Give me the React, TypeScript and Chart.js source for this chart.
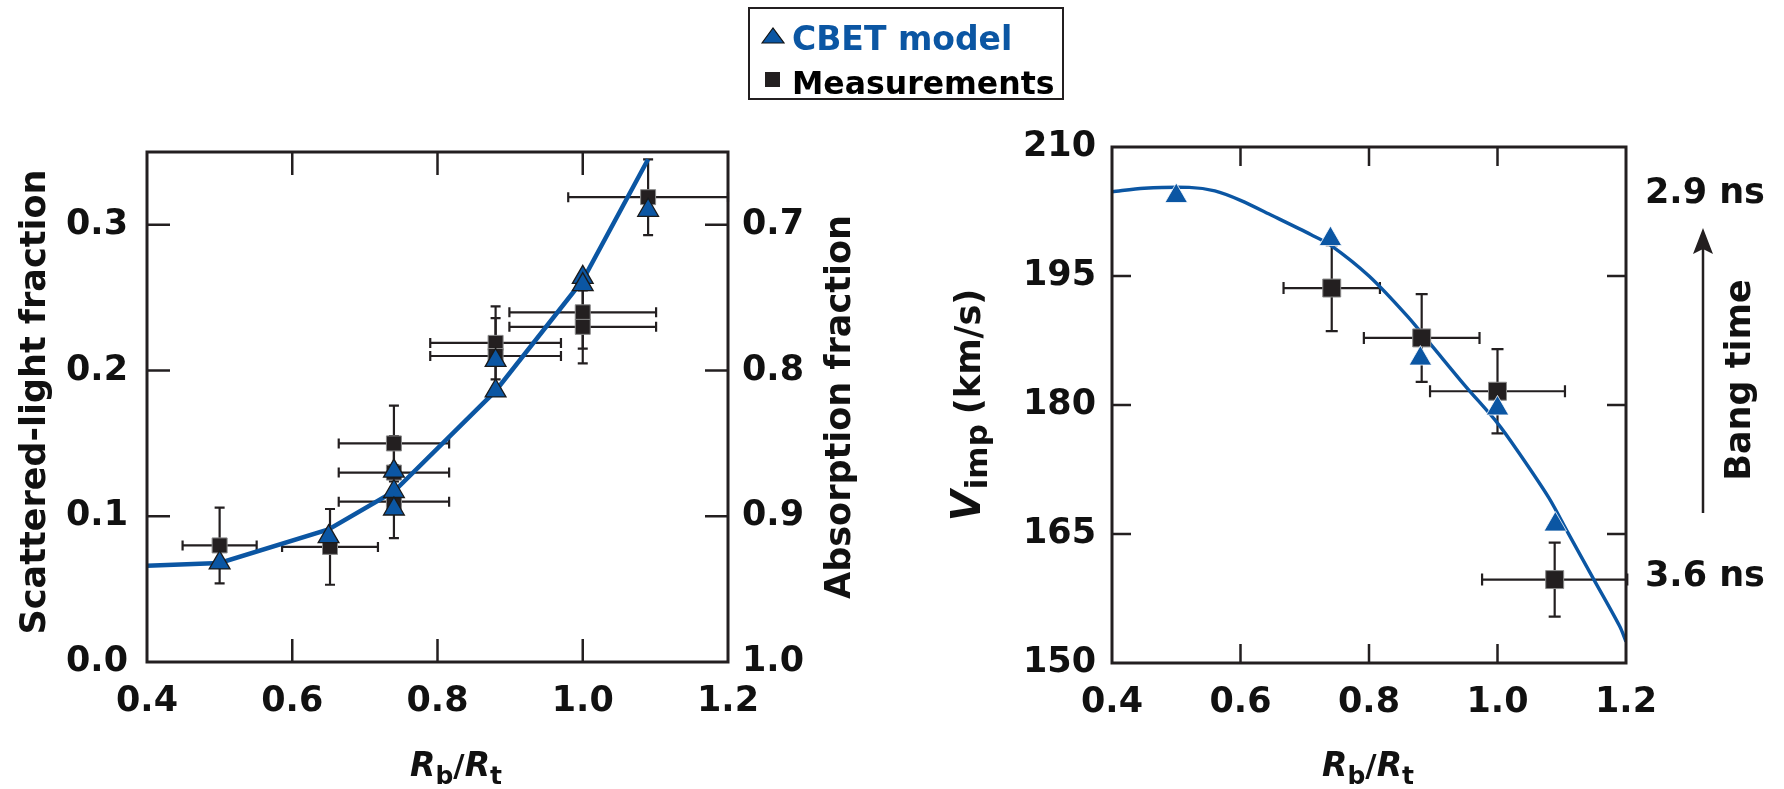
import React, { useEffect, useRef } from 'react';
import { Chart, registerables } from 'chart.js';

Chart.register(...registerables);

const FONT = '"DejaVu Sans", sans-serif';
const BLUE = '#0b56a3';
const INK = '#231f20';
const TEXT = '#111111';

// ---------- shared x axis ----------
const xTicks = [0.4, 0.6, 0.8, 1.0, 1.2];

// ---------- left panel: scattered-light fraction ----------
const scatterTicks = [0.0, 0.1, 0.2, 0.3];
const absorptionLabels = ['1.0', '0.9', '0.8', '0.7'];

const leftCurveX = [0.4, 0.5, 0.65, 0.74, 0.88, 1.0, 1.09];
const leftCurveY = [0.066, 0.068, 0.091, 0.117, 0.186, 0.262, 0.345];

const leftModelX = [0.5, 0.65, 0.74, 0.74, 0.74, 0.88, 0.88, 1.0, 1.0, 1.09];
const leftModelY = [0.068, 0.086, 0.131, 0.117, 0.105, 0.207, 0.186, 0.264, 0.259, 0.31];

const leftMeasX = [0.5, 0.652, 0.74, 0.74, 0.74, 0.88, 0.88, 1.0, 1.0, 1.09];
const leftMeasY = [0.08, 0.079, 0.15, 0.13, 0.11, 0.219, 0.21, 0.24, 0.23, 0.319];
const leftMeasXErr = [0.051, 0.066, 0.076, 0.076, 0.076, 0.09, 0.09, 0.101, 0.101, 0.11];
const leftMeasYErr = [0.026, 0.026, 0.026, 0.025, 0.025, 0.025, 0.026, 0.025, 0.025, 0.026];

// ---------- right panel: implosion velocity ----------
const velTicks = [150, 165, 180, 195, 210];
const bangTimeValues = [204.6, 160];
const bangTimeLabels = ['2.9 ns', '3.6 ns'];

const rightCurveX = [0.4, 0.45, 0.52, 0.56, 0.6, 0.65, 0.71, 0.74, 0.8, 0.86, 0.9, 0.95, 1.0, 1.03, 1.08, 1.11, 1.15, 1.19, 1.2];
const rightCurveY = [204.8, 205.2, 205.3, 204.9, 203.8, 202.0, 199.8, 198.6, 195.0, 190.3, 186.7, 182.2, 177.9, 174.8, 169.2, 165.1, 159.7, 154.3, 152.5];

const rightModelX = [0.5, 0.74, 0.88, 1.0, 1.09];
const rightModelY = [204.3, 199.3, 185.4, 179.6, 166.1];

const rightMeasX = [0.742, 0.882, 1.0, 1.089];
const rightMeasY = [193.6, 187.8, 181.6, 159.7];
const rightMeasXErr = [0.075, 0.09, 0.105, 0.113];
const rightMeasYErr = [5.0, 5.1, 4.9, 4.3];

type Seg = { t: string; font: string; dy?: number; gap?: number };
type TextItem = { segs: Seg[]; x: number; y: number; rot: boolean };

function drawRich(ctx: CanvasRenderingContext2D, item: TextItem) {
  ctx.save();
  ctx.translate(item.x, item.y);
  if (item.rot) ctx.rotate(-Math.PI / 2);
  ctx.textBaseline = 'alphabetic';
  ctx.textAlign = 'left';
  ctx.fillStyle = TEXT;
  const widths = item.segs.map((s) => {
    ctx.font = s.font;
    return ctx.measureText(s.t).width + (s.gap || 0);
  });
  const total = widths.reduce((a, b) => a + b, 0);
  let x = -total / 2;
  item.segs.forEach((s, i) => {
    ctx.font = s.font;
    ctx.fillText(s.t, x + (s.gap || 0), s.dy || 0);
    x += widths[i];
  });
  ctx.restore();
}

function makePlugin(cfg: {
  ex: number[]; ey: number[]; exErr: number[]; eyErr: number[];
  cap: number; tickLen: number; texts: TextItem[]; arrow?: { x: number; y0: number; y1: number };
}) {
  return {
    id: 'panelExtras',
    beforeDatasetsDraw(chart: any) {
      const { ctx } = chart;
      const xs = chart.scales.x;
      const ys = chart.scales.y;
      ctx.save();
      ctx.strokeStyle = INK;
      ctx.lineWidth = 2.2;
      ctx.lineCap = 'butt';
      for (let i = 0; i < cfg.ex.length; i++) {
        const px = xs.getPixelForValue(cfg.ex[i]);
        const py = ys.getPixelForValue(cfg.ey[i]);
        const x0 = xs.getPixelForValue(cfg.ex[i] - cfg.exErr[i]);
        const x1 = xs.getPixelForValue(cfg.ex[i] + cfg.exErr[i]);
        const y0 = ys.getPixelForValue(cfg.ey[i] - cfg.eyErr[i]);
        const y1 = ys.getPixelForValue(cfg.ey[i] + cfg.eyErr[i]);
        const c = cfg.cap / 2;
        ctx.beginPath();
        ctx.moveTo(x0, py); ctx.lineTo(x1, py);
        ctx.moveTo(x0, py - c); ctx.lineTo(x0, py + c);
        ctx.moveTo(x1, py - c); ctx.lineTo(x1, py + c);
        ctx.moveTo(px, y0); ctx.lineTo(px, y1);
        ctx.moveTo(px - c, y0); ctx.lineTo(px + c, y0);
        ctx.moveTo(px - c, y1); ctx.lineTo(px + c, y1);
        ctx.stroke();
      }
      ctx.restore();
    },
    afterDraw(chart: any) {
      const { ctx, chartArea: a } = chart;
      const xs = chart.scales.x;
      const ys = chart.scales.y;
      ctx.save();
      ctx.strokeStyle = INK;
      ctx.lineWidth = 2.5;
      const L = cfg.tickLen;
      ctx.beginPath();
      xs.ticks.forEach((t: any) => {
        if (t.value <= xs.min || t.value >= xs.max) return;
        const px = xs.getPixelForValue(t.value);
        ctx.moveTo(px, a.bottom); ctx.lineTo(px, a.bottom - L);
        ctx.moveTo(px, a.top); ctx.lineTo(px, a.top + L);
      });
      ys.ticks.forEach((t: any) => {
        if (t.value <= ys.min || t.value >= ys.max) return;
        const py = ys.getPixelForValue(t.value);
        ctx.moveTo(a.left, py); ctx.lineTo(a.left + L, py);
        ctx.moveTo(a.right, py); ctx.lineTo(a.right - L, py);
      });
      ctx.stroke();
      ctx.lineWidth = 3;
      ctx.strokeRect(a.left, a.top, a.right - a.left, a.bottom - a.top);
      if (cfg.arrow) {
        const { x, y0, y1 } = cfg.arrow;
        ctx.lineWidth = 2.5;
        ctx.beginPath();
        ctx.moveTo(x, y0); ctx.lineTo(x, y1 + 20);
        ctx.stroke();
        ctx.fillStyle = INK;
        ctx.beginPath();
        ctx.moveTo(x, y1);
        ctx.lineTo(x - 10, y1 + 26);
        ctx.lineTo(x, y1 + 21);
        ctx.lineTo(x + 10, y1 + 26);
        ctx.closePath();
        ctx.fill();
      }
      ctx.restore();
      cfg.texts.forEach((t) => drawRich(ctx, t));
    },
  };
}

const tickFont = { family: FONT, size: 35, weight: 'bold' as const };

function pts(xs: number[], ys: number[]) {
  return xs.map((x, i) => ({ x, y: ys[i] }));
}

function baseOptions(o: {
  top: number; leftW: number; rightW: number; bottomH: number;
  yMin: number; yMax: number; yTicks: number[]; yLabel: (v: number, i: number) => string;
  y2Ticks: number[]; y2Label: (v: number, i: number) => string; yPad: number; y2Pad: number;
}) {
  return {
    responsive: false,
    animation: false,
    devicePixelRatio: 1,
    events: [],
    layout: { padding: { top: o.top, left: 0, right: 0, bottom: 0 } },
    plugins: { legend: { display: false }, tooltip: { enabled: false } },
    scales: {
      x: {
        type: 'linear', position: 'bottom', min: 0.4, max: 1.2,
        afterBuildTicks: (s: any) => { s.ticks = xTicks.map((v) => ({ value: v })); },
        afterFit: (s: any) => { s.height = o.bottomH; },
        grid: { display: false, drawTicks: false },
        border: { display: false },
        ticks: { font: tickFont, color: TEXT, padding: 19, maxRotation: 0, autoSkip: false,
          callback: (v: any) => Number(v).toFixed(1) },
      },
      y: {
        type: 'linear', position: 'left', min: o.yMin, max: o.yMax,
        afterBuildTicks: (s: any) => { s.ticks = o.yTicks.map((v) => ({ value: v })); },
        afterFit: (s: any) => { s.width = o.leftW; },
        grid: { display: false, drawTicks: false },
        border: { display: false },
        ticks: { font: tickFont, color: TEXT, padding: o.yPad, autoSkip: false,
          callback: (v: any, i: number) => o.yLabel(Number(v), i) },
      },
      y2: {
        type: 'linear', position: 'right', min: o.yMin, max: o.yMax,
        afterBuildTicks: (s: any) => { s.ticks = o.y2Ticks.map((v) => ({ value: v })); },
        afterFit: (s: any) => { s.width = o.rightW; },
        grid: { display: false, drawTicks: false },
        border: { display: false },
        ticks: { font: tickFont, color: TEXT, padding: o.y2Pad, autoSkip: false,
          callback: (v: any, i: number) => o.y2Label(Number(v), i) },
      },
    },
  };
}

function xTitle(x: number): TextItem {
  return {
    x, y: 776, rot: false,
    segs: [
      { t: 'R', font: `italic bold 33px ${FONT}` },
      { t: 'b', font: `bold 25px ${FONT}`, dy: 8 },
      { t: '/', font: `bold 31px ${FONT}` },
      { t: 'R', font: `italic bold 33px ${FONT}` },
      { t: 't', font: `bold 25px ${FONT}`, dy: 8 },
    ],
  };
}

export default function App() {
  const leftRef = useRef<HTMLCanvasElement>(null);
  const rightRef = useRef<HTMLCanvasElement>(null);

  useEffect(() => {
    const titleFont = `bold 35px ${FONT}`;
    const left = new Chart(leftRef.current as HTMLCanvasElement, {
      type: 'scatter',
      data: {
        datasets: [
          {
            label: 'CBET model', data: pts(leftModelX, leftModelY), showLine: false,
            pointStyle: 'triangle', pointRadius: 12, pointBackgroundColor: BLUE,
            pointBorderColor: '#1a1a1a', pointBorderWidth: 1.3,
          },
          {
            label: 'Measurements', data: pts(leftMeasX, leftMeasY), showLine: false,
            pointStyle: 'rect', pointRadius: 10.6, pointBackgroundColor: INK,
            pointBorderColor: '#8a8a8a', pointBorderWidth: 1,
          },
          {
            label: 'CBET curve', data: pts(leftCurveX, leftCurveY), showLine: true,
            pointRadius: 0, borderColor: BLUE, borderWidth: 4.5, tension: 0,
          },
        ],
      },
      options: baseOptions({
        top: 152, leftW: 147, rightW: 892 - 728, bottomH: 789 - 662,
        yMin: 0, yMax: 0.35, yTicks: scatterTicks,
        yLabel: (v) => v.toFixed(1), y2Ticks: scatterTicks,
        y2Label: (_v, i) => absorptionLabels[i], yPad: 19, y2Pad: 14,
      }) as any,
      plugins: [
        makePlugin({
          ex: leftMeasX, ey: leftMeasY, exErr: leftMeasXErr, eyErr: leftMeasYErr,
          cap: 10, tickLen: 23,
          texts: [
            { x: 45, y: 402, rot: true, segs: [{ t: 'Scattered-light fraction', font: titleFont }] },
            { x: 850, y: 407, rot: true, segs: [{ t: 'Absorption fraction', font: titleFont }] },
            xTitle(456),
          ],
        }) as any,
      ],
    });

    const OFF = 892;
    const right = new Chart(rightRef.current as HTMLCanvasElement, {
      type: 'scatter',
      data: {
        datasets: [
          {
            label: 'CBET model', data: pts(rightModelX, rightModelY), showLine: false,
            pointStyle: 'triangle', pointRadius: 13, pointBackgroundColor: BLUE,
            pointBorderColor: '#ffffff', pointBorderWidth: 0.8,
          },
          {
            label: 'Measurements', data: pts(rightMeasX, rightMeasY), showLine: false,
            pointStyle: 'rect', pointRadius: 12.7, pointBackgroundColor: INK,
            pointBorderColor: '#8a8a8a', pointBorderWidth: 1,
          },
          {
            label: 'CBET curve', data: pts(rightCurveX, rightCurveY), showLine: true,
            pointRadius: 0, borderColor: BLUE, borderWidth: 3.4, tension: 0.3,
          },
        ],
      },
      options: baseOptions({
        top: 147, leftW: 1112 - OFF, rightW: 892 - (1626 - OFF), bottomH: 789 - 663,
        yMin: 150, yMax: 210, yTicks: velTicks,
        yLabel: (v) => String(Math.round(v)), y2Ticks: bangTimeValues,
        y2Label: (_v, i) => bangTimeLabels[i], yPad: 16, y2Pad: 19,
      }) as any,
      plugins: [
        makePlugin({
          ex: rightMeasX, ey: rightMeasY, exErr: rightMeasXErr, eyErr: rightMeasYErr,
          cap: 12, tickLen: 19,
          arrow: { x: 1703 - OFF, y0: 513, y1: 228 },
          texts: [
            {
              x: 980 - OFF, y: 405, rot: true,
              segs: [
                { t: 'V', font: `italic bold 40px ${FONT}` },
                { t: 'imp', font: `bold 31px ${FONT}`, dy: 7, gap: 1 },
                { t: '(km/s)', font: `bold 35px ${FONT}`, gap: 10 },
              ],
            },
            { x: 1750 - OFF, y: 380, rot: true, segs: [{ t: 'Bang time', font: titleFont }] },
            xTitle(1368 - OFF),
          ],
        }) as any,
      ],
    });

    return () => {
      left.destroy();
      right.destroy();
    };
  }, []);

  const legendText = { position: 'absolute' as const, left: 42, lineHeight: '33px', whiteSpace: 'nowrap' as const };

  return (
    <div style={{ position: 'absolute', left: 0, top: 0, width: 1784, height: 789, overflow: 'hidden', background: '#fff' }}>
      <canvas ref={leftRef} width={892} height={789} style={{ position: 'absolute', left: 0, top: 0, width: 892, height: 789 }} />
      <canvas ref={rightRef} width={892} height={789} style={{ position: 'absolute', left: 892, top: 0, width: 892, height: 789 }} />
      <div style={{ position: 'absolute', left: 748, top: 7, width: 316, height: 93, border: `2.5px solid ${INK}`, boxSizing: 'border-box', background: '#fff' }}>
        <svg style={{ position: 'absolute', left: 11, top: 18 }} width={24} height={17}>
          <polygon points="1,16 12,1 23,16" fill={BLUE} stroke="#111" strokeWidth={1.2} />
        </svg>
        <div style={{ position: 'absolute', left: 14.5, top: 62.5, width: 15, height: 15, background: INK }} />
        <div style={{ ...legendText, top: 10, color: BLUE, font: `bold 33px ${FONT}` }}>CBET model</div>
        <div style={{ ...legendText, top: 56, color: '#000', font: `bold 31.5px ${FONT}` }}>Measurements</div>
      </div>
    </div>
  );
}
